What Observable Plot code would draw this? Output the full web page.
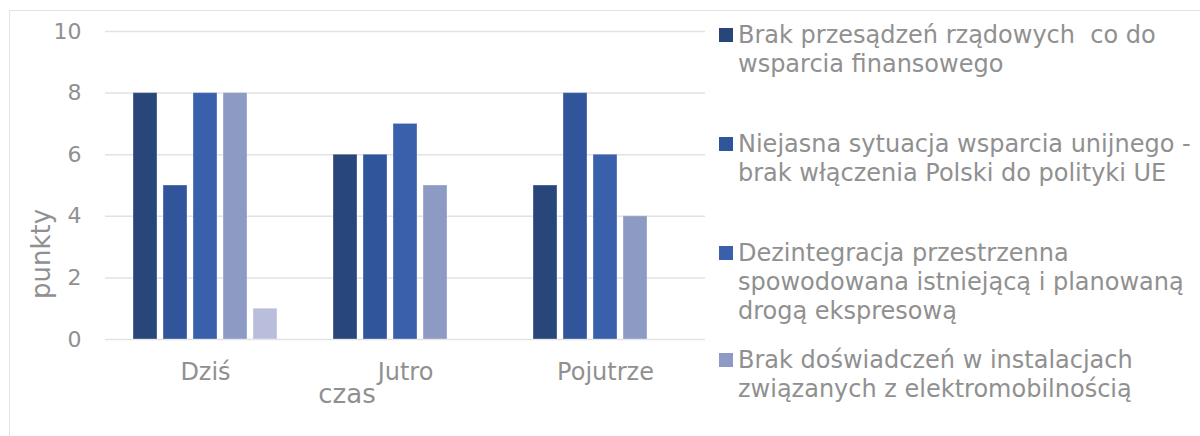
<!DOCTYPE html>
<html>
<head>
<meta charset="utf-8">
<script src="https://cdn.jsdelivr.net/npm/d3@7"></script>
<script src="https://cdn.jsdelivr.net/npm/@observablehq/plot@0.6"></script>
<style>
  html, body { margin: 0; padding: 0; background: #fff; }
  body { width: 1200px; height: 436px; overflow: hidden; font-family: "DejaVu Sans", Verdana, sans-serif; }
  #wrap { position: relative; width: 1200px; height: 436px; }
  #frame { position: absolute; left: 9px; top: 10px; width: 1200px; height: 440px; border: 1px solid #e3e3e3; box-sizing: border-box; }
  #chart { position: absolute; left: 0; top: 0; }
  #ylab { position: absolute; left: 41px; top: 254px; transform: translate(-50%, -50%) rotate(-90deg); color: #909090; font-size: 26px; white-space: nowrap; }
  #xlab { position: absolute; left: 347px; top: 394px; transform: translate(-50%, -50%); color: #909090; font-size: 26px; white-space: nowrap; }
  #legend { position: absolute; left: 719px; top: 21px; width: 480px; color: #909090; font-size: 24px; line-height: 29px; }
  .item { position: absolute; padding-left: 19px; white-space: pre; }
  .sw { position: absolute; left: 0; top: 7px; width: 14px; height: 14px; }
</style>
</head>
<body>
<div id="wrap">
  <div id="frame"></div>
  <div id="chart"></div>
  <div id="ylab">punkty</div>
  <div id="xlab">czas</div>
  <div id="legend"></div>
</div>
<script>
const categories = ["Dziś", "Jutro", "Pojutrze"];
const series = [
  "Brak przesądzeń rządowych  co do wsparcia finansowego",
  "Niejasna sytuacja wsparcia unijnego - brak włączenia Polski do polityki UE",
  "Dezintegracja przestrzenna spowodowana istniejącą i planowaną drogą ekspresową",
  "Brak doświadczeń w instalacjach związanych z elektromobilnością",
  "Seria 5"
];
const legendLines = [
  ["Brak przesądzeń rządowych  co do", "wsparcia finansowego"],
  ["Niejasna sytuacja wsparcia unijnego -", "brak włączenia Polski do polityki UE"],
  ["Dezintegracja przestrzenna", "spowodowana istniejącą i planowaną", "drogą ekspresową"],
  ["Brak doświadczeń w instalacjach", "związanych z elektromobilnością"]
];
const values = [
  [8, 6, 5],
  [5, 6, 8],
  [8, 7, 6],
  [8, 5, 4],
  [1, 0, 0]
];
const colors = ["#284679", "#30559a", "#3a5fab", "#8d9ac4", "#b8bedb"];
const yTicks = [0, 2, 4, 6, 8, 10];

const data = [];
series.forEach((s, i) => categories.forEach((c, j) => data.push({cat: c, series: s, value: values[i][j]})));

const chart = Plot.plot({
  width: 706,
  height: 436,
  marginLeft: 104,
  marginRight: 0,
  marginTop: 31,
  marginBottom: 97,
  style: {fontFamily: "DejaVu Sans, Verdana, sans-serif", fontSize: "22px", color: "#909090", background: "transparent"},
  fx: {domain: categories, padding: 0, label: null, axis: null},
  x: {domain: series, paddingInner: 0.2, paddingOuter: 0.86, axis: null},
  y: {domain: [0, 10], ticks: yTicks, label: null, tickSize: 0, tickPadding: 24},
  color: {domain: series, range: colors},
  marks: [
    Plot.ruleY(yTicks, {stroke: "#e2e2e2", strokeWidth: 1.5}),
    Plot.barY(data, {fx: "cat", x: "series", y: "value", fill: "series", stroke: "#ffffff", strokeOpacity: 0.35, strokeWidth: 1}),
    Plot.axisFx({anchor: "bottom", tickSize: 0, tickPadding: 23, fontSize: 24, label: null})
  ]
});
document.getElementById("chart").appendChild(chart);

const leg = document.getElementById("legend");
const tops = [0, 109, 218, 325];
legendLines.forEach((lines, i) => {
  const d = document.createElement("div");
  d.className = "item";
  d.style.top = tops[i] + "px";
  const sw = document.createElement("span");
  sw.className = "sw";
  sw.style.background = colors[i];
  d.appendChild(sw);
  lines.forEach(t => {
    const l = document.createElement("div");
    l.textContent = t;
    d.appendChild(l);
  });
  leg.appendChild(d);
});
</script>
</body>
</html>
